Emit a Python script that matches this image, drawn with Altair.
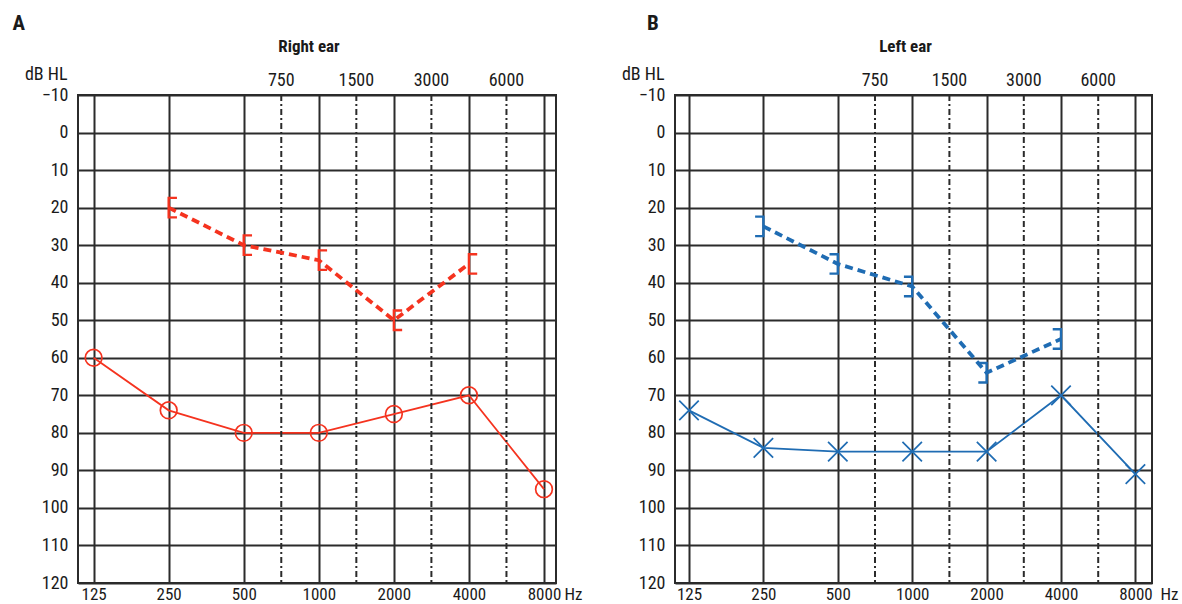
import altair as alt
import numpy as np
import pandas as pd

# ---------------- data ----------------
freqs = [125, 250, 500, 1000, 2000, 4000, 8000]
freq_labels = ["125", "250", "500", "1000", "2000", "4000", "8000"]
mid_freqs = [750, 1500, 3000, 6000]
mid_labels = ["750", "1500", "3000", "6000"]
db_ticks = list(range(-10, 121, 10))

right_air_freq = [125, 250, 500, 1000, 2000, 4000, 8000]
right_air_db = [60, 74, 80, 80, 75, 70, 95]
right_bone_freq = [250, 500, 1000, 2000, 4000]
right_bone_db = [20, 30, 34, 50, 35]

left_air_freq = [125, 250, 500, 1000, 2000, 4000, 8000]
left_air_db = [74, 84, 85, 85, 85, 70, 91]
left_bone_freq = [250, 500, 1000, 2000, 4000]
left_bone_db = [25, 35, 41, 64, 55]

# ---------------- style ----------------
FONT = "Liberation Sans Narrow, Roboto Condensed, DejaVu Sans Condensed, sans-serif"
GRID = "#2b2b2b"
TXT = "#1a1a1a"
RED = "#f5331f"
BLUE = "#1f6cb3"
H = 488
FS = 18

CIRCLE = "circle"
XMARK = "M-1,-1L1,1M-1,1L1,-1"
LBRACKET = "M0.85,-1L0,-1L0,1L0.85,1"
RBRACKET = "M-0.85,-1L0,-1L0,1L-0.85,1"


def octave(f):
    return np.log2(np.asarray(f, dtype=float) / freqs[0])


def panel(letter, title, air_f, air_db, bone_f, bone_db, color, air_shape,
          air_size, bone_shape, xdom, width, letter_x, title_dx):
    air = pd.DataFrame({"oct": octave(air_f), "db": air_db})
    bone = pd.DataFrame({"oct": octave(bone_f), "db": bone_db})
    mids = pd.DataFrame({"oct": np.floor(octave(mid_freqs)) + 0.5,
                         "label": mid_labels})
    lab = pd.DataFrame({"t": [letter]})
    ttl = pd.DataFrame({"t": [title]})

    xs = alt.Scale(domain=xdom, nice=False, zero=False)
    ys = alt.Scale(domain=[-10, 120], reverse=True, nice=False, zero=False)

    label_expr = " : ".join(
        f"datum.value == {i} ? '{l}'" for i, l in enumerate(freq_labels)
    ) + " : ''"

    x_axis = alt.Axis(
        values=list(range(len(freqs))), labelExpr=label_expr,
        grid=True, gridColor=GRID, gridWidth=2, gridOpacity=1,
        domain=False, ticks=False, labelFont=FONT, labelFontSize=17,
        labelColor=TXT, labelPadding=3, labelFlush=False, labelOverlap=False,
        title="Hz", titleFont=FONT, titleFontSize=17, titleFontWeight="normal",
        titleColor=TXT, titleAngle=0, titleAlign="left", titleBaseline="top",
        titleX=width + 8, titleY=3,
    )
    y_axis = alt.Axis(
        values=db_ticks, grid=True, gridColor=GRID, gridWidth=2, gridOpacity=1,
        domain=False, ticks=False, labelFont=FONT, labelFontSize=FS,
        labelColor=TXT, labelPadding=10, labelFlush=False, labelOverlap=False,
        title="dB HL", titleFont=FONT, titleFontSize=FS,
        titleFontWeight="normal", titleColor=TXT, titleAngle=0,
        titleAlign="right", titleBaseline="middle", titleX=-11, titleY=-21,
    )

    X = alt.X("oct:Q", scale=xs, axis=x_axis)
    Y = alt.Y("db:Q", scale=ys, axis=y_axis)

    air_line = alt.Chart(air).mark_line(color=color, strokeWidth=1.8).encode(
        x=X, y=Y)
    mid_rules = alt.Chart(mids).mark_rule(
        color=GRID, strokeWidth=2, strokeDash=[6, 3, 2, 3]
    ).encode(x=X, y=alt.value(0), y2=alt.value(H))
    mid_text = alt.Chart(mids).mark_text(
        font=FONT, fontSize=FS, color=TXT, baseline="alphabetic"
    ).encode(x=X, y=alt.value(-9), text="label:N")
    air_pts = alt.Chart(air).mark_point(
        shape=air_shape, size=air_size, filled=False, color=color,
        strokeWidth=1.7, opacity=1,
    ).encode(x=X, y=Y)
    bone_line = alt.Chart(bone).mark_line(
        color=color, strokeWidth=3.8, strokeDash=[8, 5]
    ).encode(x=X, y=Y)
    bone_pts = alt.Chart(bone).mark_point(
        shape=bone_shape, size=380, filled=False, color=color,
        strokeWidth=2.4, opacity=1,
    ).encode(x=X, y=Y)
    letter_txt = alt.Chart(lab).mark_text(
        font=FONT, fontSize=21, fontWeight="bold", color=TXT,
        align="left", baseline="alphabetic",
    ).encode(x=alt.value(letter_x), y=alt.value(-65), text="t:N")
    title_txt = alt.Chart(ttl).mark_text(
        font=FONT, fontSize=17, fontWeight="bold", color=TXT,
        align="center", baseline="middle",
    ).encode(x=alt.value(width / 2 + title_dx), y=alt.value(-48), text="t:N")

    return alt.layer(
        air_line, mid_rules, mid_text, bone_line, bone_pts, air_pts,
        letter_txt, title_txt
    ).properties(width=width, height=H)


A = panel("A", "Right ear", right_air_freq, right_air_db, right_bone_freq,
          right_bone_db, RED, CIRCLE, 280, LBRACKET, [-0.208, 6.16], 478,
          -65.5, -8)
B = panel("B", "Left ear", left_air_freq, left_air_db, left_bone_freq,
          left_bone_db, BLUE, XMARK, 380, RBRACKET, [-0.188, 6.223], 477,
          -28, -8)

chart = alt.hconcat(A, B, spacing=119, bounds="flush").properties(
    padding={"left": 11, "top": 12, "right": 0, "bottom": 0}
).configure_view(stroke=GRID, strokeWidth=2)

chart.save("out.html", embed_options={"renderer": "svg", "actions": False})
